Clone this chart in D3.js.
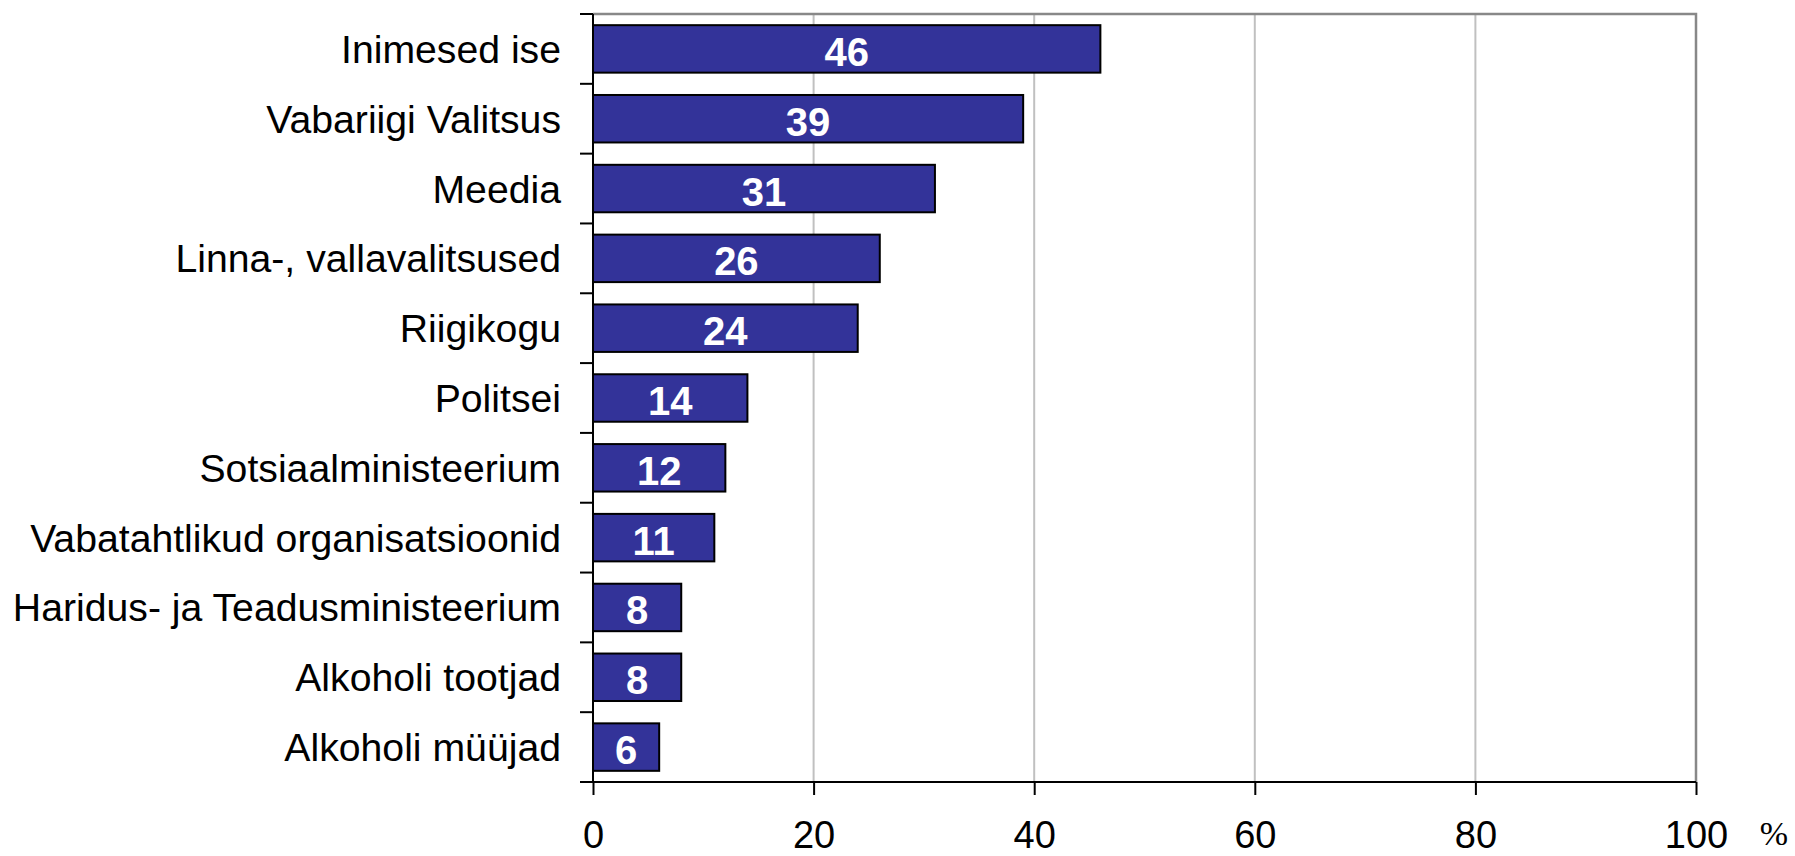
<!DOCTYPE html>
<html>
<head>
<meta charset="utf-8">
<script src="https://cdn.jsdelivr.net/npm/d3@7"></script>
<style>
    body { margin: 0; background: #fff; }
    #chart-area { width: 1795px; height: 856px; }
</style>
</head>
<body>
<div id="chart-area"></div>
<script>

// data
let categories = ["Inimesed ise", "Vabariigi Valitsus", "Meedia", "Linna-, vallavalitsused", "Riigikogu",
    "Politsei", "Sotsiaalministeerium", "Vabatahtlikud organisatsioonid", "Haridus- ja Teadusministeerium",
    "Alkoholi tootjad", "Alkoholi müüjad"];
let values = [46, 39, 31, 26, 24, 14, 12, 11, 8, 8, 6];
let xTicks = [0, 20, 40, 60, 80, 100];
let unitLabel = "%";


class BarChart {
    constructor(_parentElement) {
        this.parentElement = _parentElement;
        this.initVis();
    }

    initVis() {
        let vis = this;

        vis.margin = { top: 14, right: 99, bottom: 74, left: 593 };
        vis.width = 1795 - vis.margin.left - vis.margin.right;
        vis.height = 856 - vis.margin.top - vis.margin.bottom;

        vis.svg = d3.select("#" + vis.parentElement).append("svg")
            .attr("width", 1795)
            .attr("height", 856)
            .append("g")
            .attr("transform", "translate(" + vis.margin.left + "," + vis.margin.top + ")");

        vis.x = d3.scaleLinear()
            .domain([0, 100])
            .range([0, vis.width]);

        vis.y = d3.scaleBand()
            .domain(categories)
            .range([0, vis.height])
            .paddingInner(0.32)
            .paddingOuter(0.16);

        vis.updateVis();
    }

    updateVis() {
        let vis = this;

        // gridlines (light) for inner ticks
        vis.svg.selectAll(".grid")
            .data(xTicks.filter(d => d > 0 && d < 100))
            .enter()
            .append("line")
            .attr("class", "grid")
            .attr("x1", d => vis.x(d))
            .attr("x2", d => vis.x(d))
            .attr("y1", 0)
            .attr("y2", vis.height)
            .attr("stroke", "#c0c0c0")
            .attr("stroke-width", 2);

        // plot frame top + right (darker gray)
        vis.svg.append("path")
            .attr("d", "M0,0H" + vis.x(100) + "V" + vis.height)
            .attr("fill", "none")
            .attr("stroke", "#888")
            .attr("stroke-width", 2.5);

        // bars
        vis.svg.selectAll(".bar")
            .data(values)
            .enter()
            .append("rect")
            .attr("class", "bar")
            .attr("x", vis.x(0))
            .attr("y", (d, i) => vis.y(categories[i]))
            .attr("width", d => vis.x(d) - vis.x(0))
            .attr("height", vis.y.bandwidth())
            .attr("fill", "#333399")
            .attr("stroke", "#000")
            .attr("stroke-width", 2);

        // value labels
        vis.svg.selectAll(".value-label")
            .data(values)
            .enter()
            .append("text")
            .attr("class", "value-label")
            .attr("x", d => vis.x(d / 2))
            .attr("y", (d, i) => vis.y(categories[i]) + vis.y.bandwidth() / 2 + 17)
            .attr("text-anchor", "middle")
            .style("fill", "#fff")
            .style("font-family", "'Liberation Sans', Arial, sans-serif")
            .style("font-weight", "bold")
            .style("font-size", "40px")
            .text(d => d);

        // y axis: line + ticks at band boundaries
        let boundaries = d3.range(categories.length + 1).map(i => i * (vis.height / categories.length));

        vis.svg.append("line")
            .attr("x1", 0).attr("x2", 0)
            .attr("y1", 0).attr("y2", vis.height)
            .attr("stroke", "#000")
            .attr("stroke-width", 2);

        vis.svg.selectAll(".ytick")
            .data(boundaries)
            .enter()
            .append("line")
            .attr("class", "ytick")
            .attr("x1", -13).attr("x2", 0)
            .attr("y1", d => d).attr("y2", d => d)
            .attr("stroke", "#000")
            .attr("stroke-width", 2);

        // category labels
        vis.svg.selectAll(".cat-label")
            .data(categories)
            .enter()
            .append("text")
            .attr("class", "cat-label")
            .attr("x", -32)
            .attr("y", d => vis.y(d) + vis.y.bandwidth() / 2 + 14)
            .attr("text-anchor", "end")
            .style("fill", "#000")
            .style("font-family", "'Liberation Sans', Arial, sans-serif")
            .style("font-size", "39.2px")
            .text(d => d);

        // x axis
        let xAxis = d3.axisBottom(vis.x)
            .tickValues(xTicks)
            .tickSize(13)
            .tickPadding(20)
            .tickFormat(d3.format("d"));

        let xg = vis.svg.append("g")
            .attr("transform", "translate(0," + vis.height + ")")
            .call(xAxis);

        xg.select(".domain")
            .attr("stroke", "#000")
            .attr("stroke-width", 2)
            .attr("d", "M0,0H" + vis.width);
        xg.selectAll(".tick line")
            .attr("stroke", "#000")
            .attr("stroke-width", 2);
        xg.selectAll(".tick text")
            .attr("y", 66)
            .attr("dy", 0)
            .style("fill", "#000")
            .style("font-family", "'Liberation Sans', Arial, sans-serif")
            .style("font-size", "38px");

        // unit label
        vis.svg.append("text")
            .attr("x", vis.width + 78)
            .attr("y", vis.height + 63)
            .attr("text-anchor", "middle")
            .style("fill", "#000")
            .style("font-family", "'Liberation Serif', 'Times New Roman', serif")
            .style("font-size", "34px")
            .text(unitLabel);
    }
}

new BarChart("chart-area");

</script>
</body>
</html>
